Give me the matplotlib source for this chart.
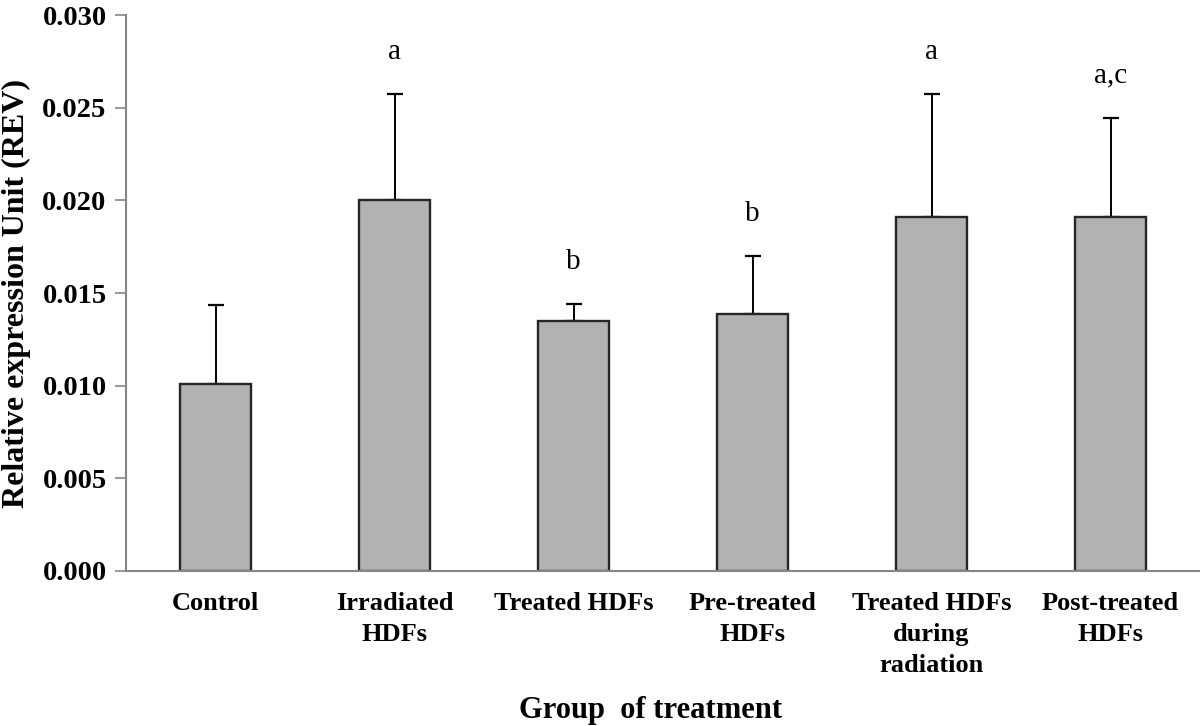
import numpy as np
import matplotlib.pyplot as plt

groups = ['Control', 'Irradiated\nHDFs', 'Treated HDFs', 'Pre-treated\nHDFs',
          'Treated HDFs\nduring\nradiation', 'Post-treated\nHDFs']
rev_mean = [0.0101, 0.0200, 0.0135, 0.0139, 0.0191, 0.0191]
rev_sd = [0.00425, 0.00575, 0.0009, 0.0031, 0.00665, 0.00535]
letters = ['', 'a', 'b', 'b', 'a', 'a,c']

plt.rcParams['font.family'] = ['Liberation Serif', 'DejaVu Serif']

fig = plt.figure(figsize=(12, 7.26), dpi=100)
ax = fig.add_axes([0.105, 0.2135, 0.895, 0.7655])

x = np.arange(len(groups))
ax.bar(x, rev_mean, width=0.4, color='#b2b2b2', edgecolor='#262626', linewidth=1.7, zorder=2)
ax.errorbar(x, rev_mean, yerr=[np.zeros(len(x)), rev_sd], fmt='none',
            ecolor='black', elinewidth=1.4, capsize=6, capthick=1.6, zorder=1)

for xi, m, s, t in zip(x, rev_mean, rev_sd, letters):
    if t:
        ax.text(xi, m + s + 0.0019, t, ha='center', va='baseline', fontsize=21)

ax.set_xlim(-0.5, 5.5)
ax.set_ylim(0, 0.030)
ax.set_yticks(np.arange(0, 0.0301, 0.005))
ax.set_yticklabels(['%.3f' % v for v in np.arange(0, 0.0301, 0.005)],
                   fontsize=20.5, fontweight='bold')
ax.set_xticks(x)
ax.set_xticklabels(groups, fontsize=19, fontweight='bold', linespacing=1.45)
ax.tick_params(axis='x', length=0, pad=15)
ax.tick_params(axis='y', length=8, width=1.2, color='#868686', pad=6)

for side in ['top', 'right']:
    ax.spines[side].set_visible(False)
ax.spines['left'].set_color('#868686')
ax.spines['bottom'].set_color('#868686')
ax.spines['left'].set_linewidth(1.5)
ax.spines['bottom'].set_linewidth(1.5)

ax.set_ylabel('Relative expression Unit (REV)', fontsize=23, fontweight='bold', labelpad=8)
fig.text(0.542, 0.011, 'Group  of treatment', ha='center', va='baseline',
         fontsize=22, fontweight='bold')

fig.savefig('out.png', dpi=100)
